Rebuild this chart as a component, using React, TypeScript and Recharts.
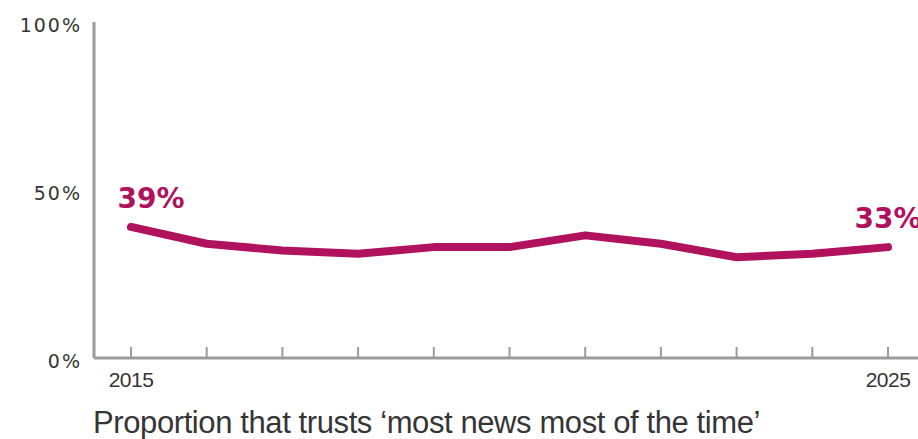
import { LineChart, Line, XAxis, YAxis, LabelList } from "recharts";

const years = [2015, 2016, 2017, 2018, 2019, 2020, 2021, 2022, 2023, 2024, 2025];
const trust = [39, 34, 32, 31, 33, 33, 36.5, 34, 30, 31, 33];
const yTicks = [0, 50, 100];
const shownYears = [2015, 2025];

const data = years.map((year, i) => ({ year, trust: trust[i] }));

const magenta = "#b1125e";
const axisGrey = "#9b9b9b";
const textColor = "#353535";

function YTick(props: any) {
  const { x, y, payload } = props;
  return (
    <text
      x={x}
      y={y + 3}
      textAnchor="end"
      dominantBaseline="central"
      fontFamily="DejaVu Sans"
      fontSize={19}
      letterSpacing={2}
      fill={textColor}
    >
      {payload.value}%
    </text>
  );
}

function XTick(props: any) {
  const { x, y, payload } = props;
  return (
    <g>
      <line x1={x} x2={x} y1={y} y2={y - 11} stroke={axisGrey} strokeWidth={2} />
      {shownYears.includes(payload.value) && (
        <text
          x={x}
          y={y + 29}
          textAnchor="middle"
          fontFamily="Liberation Sans"
          fontSize={21}
          letterSpacing={-0.5}
          fill={textColor}
        >
          {payload.value}
        </text>
      )}
    </g>
  );
}

function EndLabel(props: any) {
  const { x, y, index, value } = props;
  if (index !== 0 && index !== years.length - 1) return null;
  const dx = index === 0 ? 20 : 0;
  return (
    <text
      x={x + dx}
      y={y - 19}
      textAnchor="middle"
      fontFamily="DejaVu Sans"
      fontWeight={700}
      fontSize={28}
      fill={magenta}
    >
      {value}%
    </text>
  );
}

function Title(props: any) {
  const { viewBox } = props;
  return (
    <text
      x={viewBox.x - 1}
      y={viewBox.y + 75}
      fontFamily="Liberation Sans"
      fontSize={31}
      letterSpacing={-0.4}
      fill={textColor}
    >
      Proportion that trusts ‘most news most of the time’
    </text>
  );
}

export default function App() {
  return (
    <div style={{ position: "absolute", left: 0, top: 0 }}>
      <LineChart
        width={918}
        height={439}
        data={data}
        margin={{ top: 22, right: 0, bottom: 0, left: 0 }}
      >
        <XAxis
          dataKey="year"
          type="category"
          height={81}
          padding={{ left: 37, right: 30 }}
          axisLine={{ stroke: axisGrey, strokeWidth: 3 }}
          tickLine={false}
          tickSize={0}
          tickMargin={0}
          interval={0}
          tick={<XTick />}
          label={<Title />}
        />
        <YAxis
          domain={[0, 100]}
          ticks={yTicks}
          width={94}
          axisLine={{ stroke: axisGrey, strokeWidth: 3 }}
          tickLine={false}
          tickSize={0}
          tickMargin={12}
          tick={<YTick />}
        />
        <Line
          dataKey="trust"
          type="linear"
          stroke={magenta}
          strokeWidth={8}
          strokeLinecap="round"
          strokeLinejoin="round"
          dot={false}
          isAnimationActive={false}
        >
          <LabelList dataKey="trust" content={<EndLabel />} />
        </Line>
      </LineChart>
    </div>
  );
}
